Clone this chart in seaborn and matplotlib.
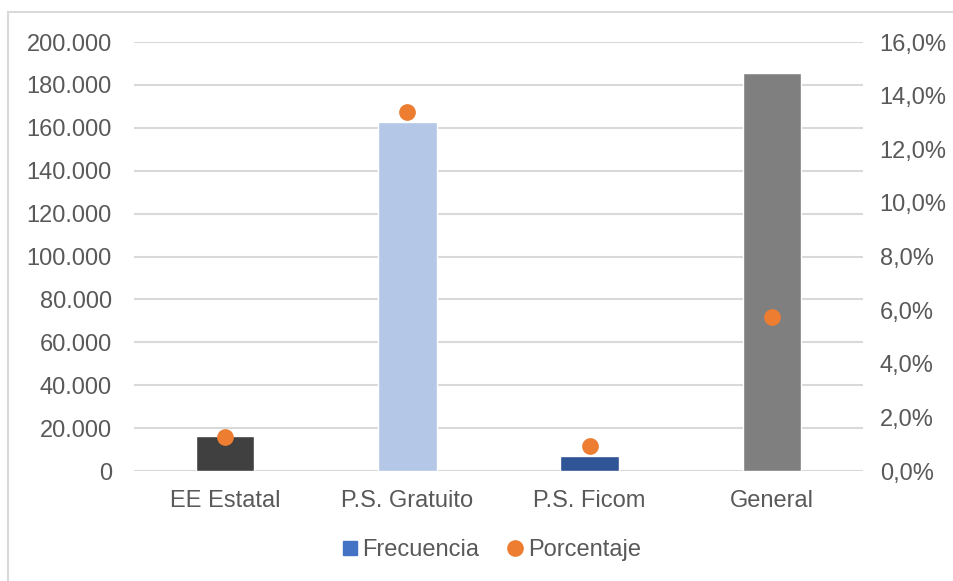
import matplotlib
matplotlib.use("Agg")
import matplotlib.pyplot as plt
import matplotlib.patches as mpatches
from matplotlib.lines import Line2D
from matplotlib.ticker import FuncFormatter, MultipleLocator
import seaborn as sns
import pandas as pd

# Data
categories = ["EE Estatal", "P.S. Gratuito", "P.S. Ficom", "General"]
frecuencia = [16300, 162700, 7100, 185500]
porcentaje = [1.28, 13.4, 0.93, 5.73]  # percent
bar_colors = ["#404040", "#B4C7E7", "#2F5597", "#7F7F7F"]

sns.set_theme(style="white")
plt.rcParams["font.family"] = ["Liberation Sans", "DejaVu Sans"]
text_color = "#595959"
grid_color = "#D9D9D9"

df = pd.DataFrame({"cat": categories, "frec": frecuencia, "pct": porcentaje})

fig = plt.figure(figsize=(9.54, 5.81), dpi=100)
ax = fig.add_axes([0.1405, 0.1893, 0.9046 - 0.1405, 0.9277 - 0.1893])

sns.barplot(data=df, x="cat", y="frec", hue="cat", palette=bar_colors,
            width=0.32, dodge=False, legend=False, ax=ax, saturation=1)

ax.set_ylim(0, 200000)
ax.yaxis.set_major_locator(MultipleLocator(20000))
ax.yaxis.set_major_formatter(FuncFormatter(lambda v, p: f"{int(v):,}".replace(",", ".")))
ax.set_xlim(-0.5, 3.5)
ax.grid(axis="y", color=grid_color, linewidth=1.5)
ax.set_axisbelow(True)
for s in ax.spines.values():
    s.set_visible(False)
ax.set_xlabel("")
ax.set_ylabel("")
ax.tick_params(axis="y", length=0, pad=16, labelsize=17, labelcolor=text_color)
ax.tick_params(axis="x", length=0, pad=14, labelsize=17, labelcolor=text_color)
ax.axhline(0, color=grid_color, linewidth=1.5, zorder=0.5)

ax2 = ax.twinx()
sns.pointplot(data=df, x="cat", y="pct", color="#ED7D31", linestyle="none",
              markers="o", markersize=10, ax=ax2, errorbar=None)
ax2.set_ylim(0, 16)
ax2.yaxis.set_major_locator(MultipleLocator(2))
ax2.yaxis.set_major_formatter(FuncFormatter(lambda v, p: f"{v:.1f}%".replace(".", ",")))
for s in ax2.spines.values():
    s.set_visible(False)
ax2.set_ylabel("")
ax2.set_xlabel("")
ax2.tick_params(axis="y", length=0, pad=12, labelsize=17, labelcolor=text_color)
ax.set_xlim(-0.5, 3.5)

# Legend
handles = [
    Line2D([], [], marker="s", linestyle="none", color="#4472C4", markersize=10),
    Line2D([], [], marker="o", linestyle="none", color="#ED7D31", markersize=11),
]
fig.legend(handles, ["Frecuencia", "Porcentaje"], loc="center",
           bbox_to_anchor=(0.513, 1 - 550 / 581), ncol=2, frameon=False,
           fontsize=17, labelcolor=text_color, handletextpad=0.05,
           columnspacing=1.0, handlelength=1.0)

# Chart border
fig.add_artist(mpatches.Rectangle((8.5 / 954, -0.1), 1.2, 1 - 12 / 581 + 0.1,
                                  transform=fig.transFigure, fill=False,
                                  edgecolor=grid_color, linewidth=1.5))

fig.savefig("out.png", dpi=100)
